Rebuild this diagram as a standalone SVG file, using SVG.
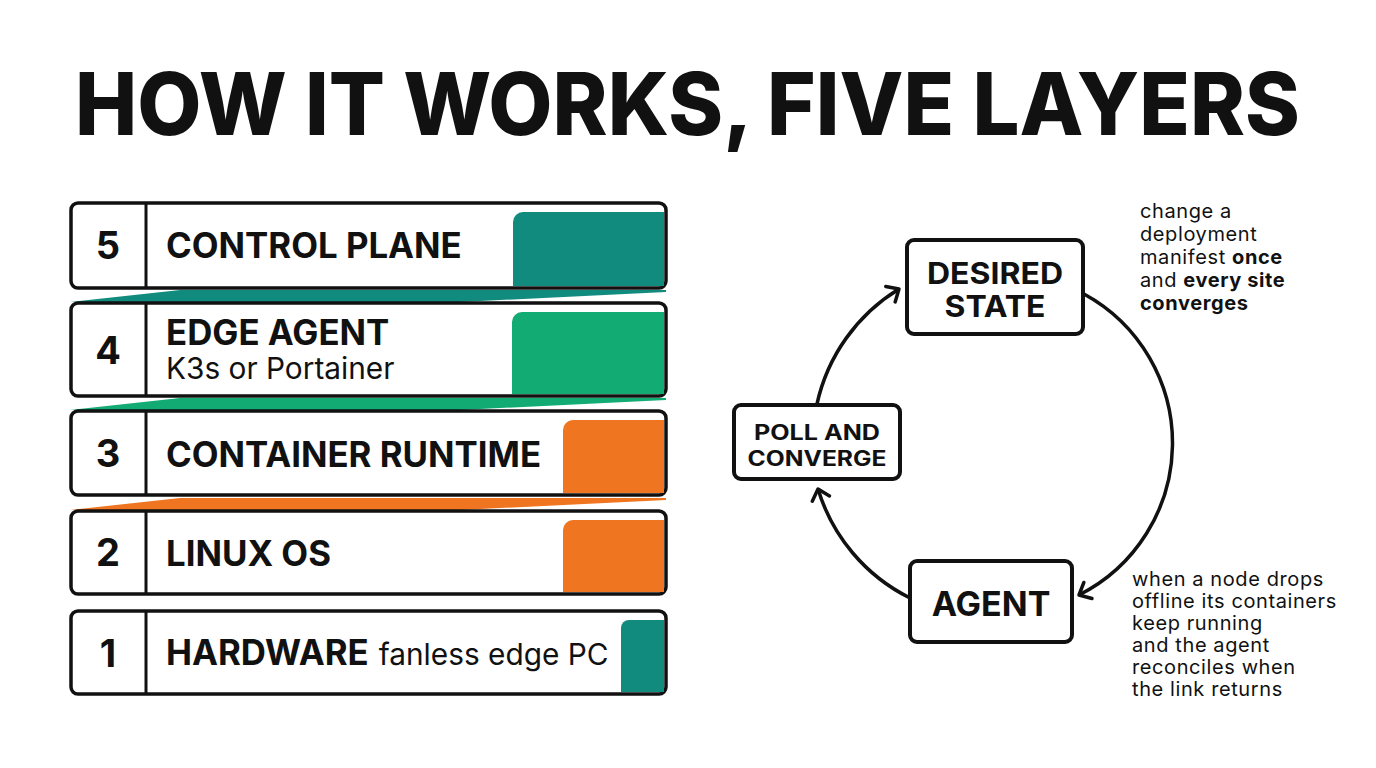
<svg xmlns="http://www.w3.org/2000/svg" width="1376" height="768" viewBox="0 0 1376 768">
<style>
.box{fill:#fff;stroke:#111;stroke-width:3.5}
.div{stroke:#111;stroke-width:3}
.num{font-family:Inter,"Liberation Sans",sans-serif;font-weight:700;font-size:38px;fill:#111;text-anchor:middle}
.lbl{font-family:Inter,"Liberation Sans",sans-serif;font-weight:700;font-size:34.8px;fill:#111}
.sub{font-family:Inter,"Liberation Sans",sans-serif;font-weight:400;font-size:29.8px;fill:#111}
.node{fill:#fff;stroke:#111;stroke-width:4}
.nt{font-family:Inter,"Liberation Sans",sans-serif;font-weight:700;fill:#111;text-anchor:middle}
.note{font-family:Inter,"Liberation Sans",sans-serif;font-weight:400;font-size:20px;letter-spacing:0.6px;fill:#111}
.b{font-weight:700}
.arc{fill:none;stroke:#111;stroke-width:3.5}
.teal{fill:#128b7f}.green{fill:#13ab74}.orange{fill:#f07521}
</style>
<defs>
<marker id="ah" markerWidth="24" markerHeight="24" refX="12" refY="12" orient="auto" markerUnits="userSpaceOnUse">
<path d="M2,3 L12,12 L2,21" fill="none" stroke="#111" stroke-width="3.5" stroke-linecap="round" stroke-linejoin="round"/>
</marker>
</defs>
<rect width="1376" height="768" fill="#fff"/>
<text x="75" y="135" font-family="Inter,'Liberation Sans',sans-serif" font-weight="800" font-size="86" fill="#111" textLength="1225" lengthAdjust="spacingAndGlyphs">HOW IT WORKS, FIVE LAYERS</text>

<g id="ribbons">
<polygon class="teal" points="70,302 180,290 666,290 666,292 460,302"/>
<polygon class="green" points="70,410 180,398 666,398 666,400 460,410"/>
<polygon class="orange" points="70,510 180,498 666,498 666,500 460,510"/>
</g>

<g id="layer5">
<rect class="box" x="71" y="203" width="595" height="85" rx="7"/>
<path class="teal" d="M513,222 a10,10 0 0 1 10,-10 H664 V286 H513 Z"/>
<line class="div" x1="146" y1="203" x2="146" y2="288"/>
<text class="num" x="108" y="259">5</text>
<text class="lbl" x="166" y="258">CONTROL PLANE</text>
</g>
<g id="layer4">
<rect class="box" x="71" y="303" width="595" height="93" rx="7"/>
<path class="green" d="M512,322 a10,10 0 0 1 10,-10 H664 V394 H512 Z"/>
<line class="div" x1="146" y1="303" x2="146" y2="396"/>
<text class="num" x="108" y="364">4</text>
<text class="lbl" x="166" y="345">EDGE AGENT</text>
<text class="sub" x="166" y="379">K3s or Portainer</text>
</g>
<g id="layer3">
<rect class="box" x="71" y="411" width="595" height="84" rx="7"/>
<path class="orange" d="M563,430 a10,10 0 0 1 10,-10 H664 V493 H563 Z"/>
<line class="div" x1="146" y1="411" x2="146" y2="495"/>
<text class="num" x="108" y="467">3</text>
<text class="lbl" x="166" y="467">CONTAINER RUNTIME</text>
</g>
<g id="layer2">
<rect class="box" x="71" y="511" width="595" height="83" rx="7"/>
<path class="orange" d="M563,530 a10,10 0 0 1 10,-10 H664 V592 H563 Z"/>
<line class="div" x1="146" y1="511" x2="146" y2="594"/>
<text class="num" x="108" y="566">2</text>
<text class="lbl" x="166" y="566">LINUX OS</text>
</g>
<g id="layer1">
<rect class="box" x="71" y="611" width="595" height="83" rx="7"/>
<path class="teal" d="M621,628 a8,8 0 0 1 8,-8 H664 V692 H621 Z"/>
<line class="div" x1="146" y1="611" x2="146" y2="694"/>
<text class="num" x="108" y="667">1</text>
<text x="166" y="665"><tspan class="lbl">HARDWARE</tspan><tspan class="sub" dx="10">fanless edge PC</tspan></text>
</g>

<g id="connectors">
<path class="arc" d="M1084,294 A170,170 0 0 1 1079,595" marker-end="url(#ah)"/>
<path class="arc" d="M817,404 A180,180 0 0 1 899,289" marker-end="url(#ah)"/>
<path class="arc" d="M910,598 A180,180 0 0 1 818,489" marker-end="url(#ah)"/>
</g>

<g id="desired">
<rect class="node" x="907" y="240" width="176" height="94" rx="7"/>
<text class="nt" x="995" y="284" font-size="30" textLength="136" lengthAdjust="spacingAndGlyphs">DESIRED</text>
<text class="nt" x="995" y="317" font-size="30" textLength="101" lengthAdjust="spacingAndGlyphs">STATE</text>
</g>
<g id="poll">
<rect class="node" x="734" y="405" width="166" height="74" rx="7"/>
<text class="nt" x="817" y="440" font-size="21" textLength="126" lengthAdjust="spacingAndGlyphs">POLL AND</text>
<text class="nt" x="817" y="466" font-size="21" textLength="139" lengthAdjust="spacingAndGlyphs">CONVERGE</text>
</g>
<g id="agent">
<rect class="node" x="910" y="561" width="162" height="81" rx="7"/>
<text class="nt" x="991" y="616" font-size="34">AGENT</text>
</g>

<g id="note-top">
<text class="note" x="1140" y="218">change a</text>
<text class="note" x="1140" y="241">deployment</text>
<text class="note" x="1140" y="264">manifest <tspan class="b">once</tspan></text>
<text class="note" x="1140" y="287">and <tspan class="b">every site</tspan></text>
<text class="note b" x="1140" y="310">converges</text>
</g>
<g id="note-bottom">
<text class="note" x="1132" y="586">when a node drops</text>
<text class="note" x="1132" y="608">offline its containers</text>
<text class="note" x="1132" y="630">keep running</text>
<text class="note" x="1132" y="652">and the agent</text>
<text class="note" x="1132" y="674">reconciles when</text>
<text class="note" x="1132" y="696">the link returns</text>
</g>
</svg>
